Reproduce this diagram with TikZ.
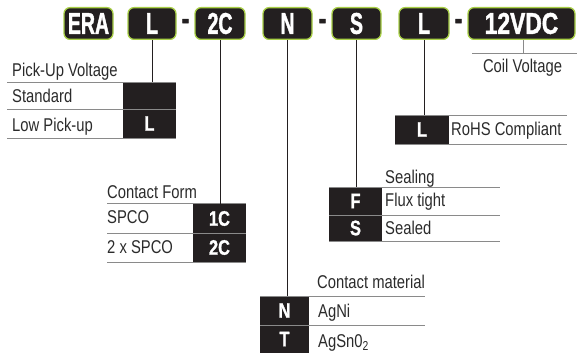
\documentclass[tikz,border=0pt]{standalone}
\usepackage{fontspec}
\setmainfont{Liberation Sans}
\newfontfamily\boxfont[FakeStretch=0.65,FakeBold=1.4]{Liberation Sans}
\newfontfamily\wboxfont[FakeStretch=0.76,FakeBold=1.4]{Liberation Sans}
\newfontfamily\cellfont[FakeStretch=0.78,FakeBold=1.2]{Liberation Sans}
\newfontfamily\txtfont[FakeStretch=0.8]{Liberation Sans}
\definecolor{ink}{HTML}{231F20}
\definecolor{lime}{HTML}{A8CF45}
\definecolor{rulegray}{HTML}{8A8A8A}
\definecolor{txt}{HTML}{2B2B2B}
\begin{document}
\begin{tikzpicture}[x=1pt,y=-1pt,
 codebox/.style={draw=lime, line width=1.3pt, fill=ink, rounded corners=6pt, text=white,
   font=\boxfont\bfseries\fontsize{30}{30}\selectfont, minimum height=31.7pt, inner sep=0pt},
 cellbox/.style={fill=ink, text=white, font=\cellfont\bfseries\fontsize{21}{21}\selectfont, inner sep=0pt},
 lbl/.style={font=\txtfont\fontsize{18.5}{18.5}\selectfont, text=txt, anchor=base west, inner sep=0pt},
 dashmark/.style={font=\boxfont\bfseries\fontsize{34}{34}\selectfont, text=ink, anchor=base, inner sep=0pt},
 tabline/.style={draw=rulegray, line width=0.9pt},
 conn/.style={draw=ink, line width=0.9pt}]
\useasboundingbox (0,0) rectangle (577,353);

% code boxes
\node[codebox, minimum width=49pt] (bERA) at (88.5,23.5) {ERA};
\node[codebox, minimum width=48pt] (bL) at (152,23.5) {L};
\node[dashmark] (d1) at (185.5,30) {-};
\node[codebox, minimum width=50pt] (b2C) at (220,23.5) {2C};
\node[codebox, minimum width=49pt] (bN) at (287.5,23.5) {N};
\node[dashmark] (d2) at (322.5,30) {-};
\node[codebox, minimum width=49pt] (bS) at (356.5,23.5) {S};
\node[codebox, minimum width=50pt] (bL2) at (424,23.5) {L};
\node[dashmark] (d3) at (458.5,30) {-};
\node[codebox, minimum width=107pt, font=\wboxfont\bfseries\fontsize{30}{30}\selectfont] (bV) at (521.5,23.5) {12VDC};

% Pick-Up Voltage table
\node[cellbox, minimum width=53pt, minimum height=27pt] (pu1) at (149.5,95.5) {};
\node[cellbox, minimum width=53pt, minimum height=29pt] (pu2) at (149.5,123.5) {L};
\draw[tabline] (7,82) -- (176,82) (7,109) -- (176,109) (7,138) -- (176,138);
\node[lbl] (puT) at (12,76) {Pick-Up Voltage};
\node[lbl] (pu1t) at (12,102) {Standard};
\node[lbl] (pu2t) at (12,131) {Low Pick-up};

% Contact Form table
\node[cellbox, minimum width=53pt, minimum height=29pt] (cf1) at (219.5,218.5) {1C};
\node[cellbox, minimum width=53pt, minimum height=29pt] (cf2) at (219.5,247.5) {2C};
\draw[tabline] (107,203.5) -- (246,203.5) (107,233) -- (246,233) (107,262) -- (246,262);
\node[lbl] (cfT) at (107,198) {Contact Form};
\node[lbl] (cf1t) at (107,223) {SPCO};
\node[lbl] (cf2t) at (107,253) {2 x SPCO};

% Sealing table
\node[cellbox, minimum width=53pt, minimum height=28pt] (se1) at (355.5,201) {F};
\node[cellbox, minimum width=53pt, minimum height=26pt] (se2) at (355.5,228) {S};
\draw[tabline] (329,187) -- (500,187) (329,215) -- (500,215) (329,241) -- (500,241);
\node[lbl] (seT) at (385,183) {Sealing};
\node[lbl] (se1t) at (385,206) {Flux tight};
\node[lbl] (se2t) at (385,234) {Sealed};

% Contact material table
\node[cellbox, minimum width=49pt, minimum height=29pt] (cm1) at (284.5,310.5) {N};
\node[cellbox, minimum width=49pt, minimum height=28pt] (cm2) at (284.5,339) {T};
\draw[tabline] (260,296) -- (425,296) (260,325) -- (425,325);
\node[lbl] (cmT) at (317,288) {Contact material};
\node[lbl] (cm1t) at (318,317) {AgNi};
\node[lbl] (cm2t) at (318,347) {AgSn0\textsubscript{2}};

% RoHS table
\node[cellbox, minimum width=54pt, minimum height=29pt] (rh) at (422,129.5) {L};
\draw[tabline] (395,115) -- (567,115) (395,144) -- (567,144);
\node[lbl] (rht) at (451,135) {RoHS Compliant};

% Coil voltage
\coordinate (coilL) at (472,53);
\coordinate (coilR) at (577,53);
\draw[tabline] (coilL) -- (coilR);
\node[lbl, anchor=base] (coilt) at (522.5,72) {Coil Voltage};

% connectors
\draw[conn] (bL.south) -- (bL.south |- pu1.north);
\draw[conn] (b2C.south) -- (b2C.south |- cf1.north);
\draw[conn] (bN.south) -- (bN.south |- cm1.north);
\draw[conn] (bS.south) -- (bS.south |- se1.north);
\draw[conn] (bL2.south) -- (bL2.south |- rh.north);
\draw[tabline] ([xshift=1.5pt]bV.south) -- ([xshift=1.5pt]bV.south |- coilL);
\end{tikzpicture}
\end{document}
